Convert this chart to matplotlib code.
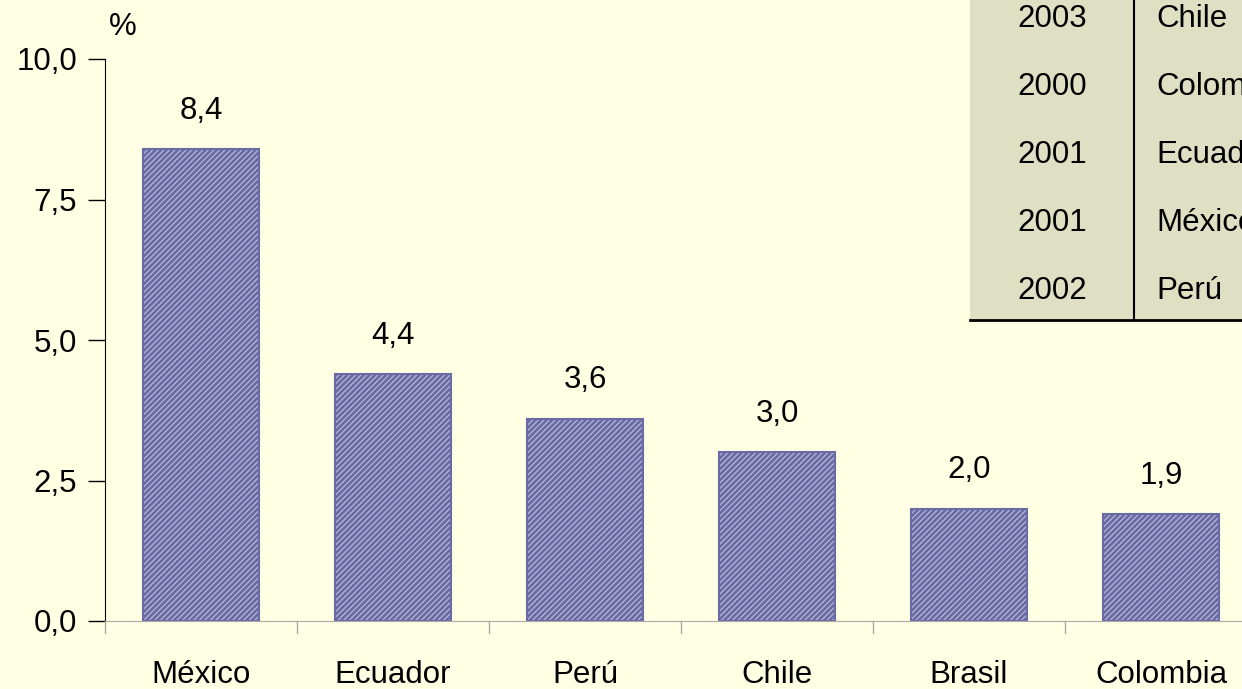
import matplotlib.pyplot as plt
from matplotlib.patches import Rectangle
from matplotlib.lines import Line2D

plt.rcParams['font.family'] = ['Liberation Sans', 'DejaVu Sans']

countries = ['México', 'Ecuador', 'Perú', 'Chile', 'Brasil', 'Colombia']
values = [8.4, 4.4, 3.6, 3.0, 2.0, 1.9]
yticks = [0.0, 2.5, 5.0, 7.5, 10.0]

table_years = ['2003', '2000', '2001', '2001', '2002']
table_names = ['Chile', 'Colombia', 'Ecuador', 'México', 'Perú']

W, H = 1242, 689
FS = 22.5
bg = '#FFFFE3'
fig = plt.figure(figsize=(W / 100, H / 100), dpi=100, facecolor=bg)
# axes extends past the right edge of the figure (as in the original)
ax = fig.add_axes([105 / W, 1 - 621 / H, 1152 / W, 562 / H], facecolor=bg)

x = list(range(len(countries)))
plt.rcParams['hatch.linewidth'] = 2.0
bars = ax.bar(x, values, width=0.6, color='#BDBDDD', edgecolor='#6A6AA4',
              hatch='//////', linewidth=1.5)
for xi, v in zip(x, values):
    ax.text(xi, v + 0.68, f'{v:.1f}'.replace('.', ','), ha='center', va='center',
            fontsize=FS)

ax.set_xlim(-0.5, len(countries) - 0.5)
ax.set_ylim(0, 10)
ax.set_yticks(yticks)
ax.set_yticklabels([f'{t:.1f}'.replace('.', ',') for t in yticks], fontsize=FS)
ax.set_xticks(x)
ax.set_xticklabels(countries, fontsize=FS)
ax.tick_params(axis='x', length=0, pad=28)
ax.tick_params(axis='y', length=12, width=1, pad=8)
for b in [i + 0.5 for i in range(-1, len(countries))]:
    ax.plot([b, b], [0, -0.22], color='#AAAAAA', lw=1, clip_on=False)
for s in ['top', 'right']:
    ax.spines[s].set_visible(False)
ax.spines['bottom'].set_color('#AAAAAA')
ax.spines['left'].set_color('black')
ax.text(-0.48, 10.3, '%', fontsize=FS, ha='left', va='bottom')

# table in the upper right
fig.patches.append(Rectangle((970 / W, 1 - 320 / H), (W - 970) / W, 320 / H,
                             transform=fig.transFigure, facecolor='#DFDFC4',
                             edgecolor='none', zorder=5))
fig.lines.append(Line2D([970 / W, 1], [1 - 320 / H] * 2, transform=fig.transFigure,
                        color='black', lw=2, zorder=6))
fig.lines.append(Line2D([1134 / W] * 2, [1 - 320 / H, 1], transform=fig.transFigure,
                        color='black', lw=1.5, zorder=6))
for i, (yr, nm) in enumerate(zip(table_years, table_names)):
    yy = 1 - (19 + i * 68) / H
    fig.text(1052 / W, yy, yr, ha='center', va='center', fontsize=FS, zorder=7)
    fig.text(1156 / W, yy, nm, ha='left', va='center', fontsize=FS, zorder=7)

fig.savefig('out.png', dpi=100, facecolor=bg)
